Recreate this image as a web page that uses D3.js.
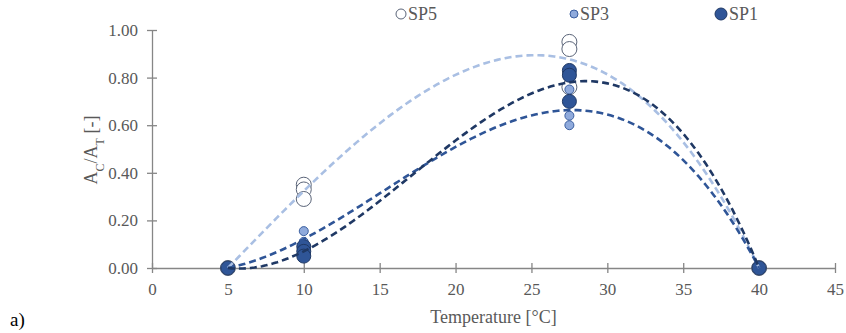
<!DOCTYPE html>
<html><head><meta charset="utf-8">
<script src="https://cdn.jsdelivr.net/npm/d3@7"></script>
<style>body{margin:0;background:#fff}svg{display:block}
svg text{font-family:"Liberation Serif","DejaVu Serif",Tinos,"Times New Roman",serif !important;}</style>
</head><body>
<svg id="c" width="846" height="333"></svg>
<script>
// Data
const temperatures = [5, 10, 27.5, 40];
const seriesNames = ["SP5", "SP3", "SP1"];
const sp5 = [[5,0],[10,0.35],[10,0.33],[10,0.29],[27.5,0.95],[27.5,0.92],[27.5,0.76],[40,0]];
const sp3 = [[5,0],[10,0.155],[10,0.11],[10,0.10],[27.5,0.75],[27.5,0.64],[27.5,0.60],[40,0]];
const sp1 = [[5,0],[10,0.09],[10,0.07],[10,0.05],[27.5,0.83],[27.5,0.81],[27.5,0.70],[40,0]];
const xTicks = [0,5,10,15,20,25,30,35,40,45];
const yTicks = [0,0.2,0.4,0.6,0.8,1.0];

const svg = d3.select("#c");
const L = 152, R = 835, T = 30, B = 268;
const x = d3.scaleLinear().domain([0,45]).range([L,R]);
const y = d3.scaleLinear().domain([0,1]).range([B,T]);
const axisCol = "#868686", txtCol = "#595959";

// axes
const gx = svg.append("g").attr("transform",`translate(0,${B})`)
  .call(d3.axisBottom(x).tickValues(xTicks).tickSizeInner(5).tickSizeOuter(0).tickPadding(10).tickFormat(d3.format("d")));
gx.selectAll(".tick line").attr("y1",-5);
const gy = svg.append("g").attr("transform",`translate(${L},0)`)
  .call(d3.axisLeft(y).tickValues(yTicks).tickSizeInner(5).tickSizeOuter(0).tickPadding(9).tickFormat(d3.format(".2f")));
gy.selectAll(".tick line").attr("x1",5);
[gx,gy].forEach(g=>{
  g.select(".domain").attr("stroke",axisCol).attr("stroke-width",1.3);
  g.selectAll(".tick line").attr("stroke",axisCol).attr("stroke-width",1.3);
  g.selectAll(".tick text").attr("fill",txtCol).style("font-size","17px");
});

// cubic least squares fit
function polyfit(pts, deg){
  const n = deg+1;
  const A = Array.from({length:n},()=>new Array(n+1).fill(0));
  pts.forEach(([px,py])=>{
    for(let i=0;i<n;i++){
      for(let j=0;j<n;j++) A[i][j]+=Math.pow(px,i+j);
      A[i][n]+=py*Math.pow(px,i);
    }
  });
  for(let i=0;i<n;i++){
    let m=i; for(let k=i+1;k<n;k++) if(Math.abs(A[k][i])>Math.abs(A[m][i])) m=k;
    [A[i],A[m]]=[A[m],A[i]];
    for(let k=0;k<n;k++){ if(k===i) continue; const f=A[k][i]/A[i][i]; for(let j=i;j<=n;j++) A[k][j]-=f*A[i][j]; }
  }
  return A.map((r,i)=>r[n]/r[i]);
}
const series = [
  {name:"SP5", data:sp5, fill:"#ffffff", stroke:"#5a6478", r:7.5, line:"#a9bfe3", lr:5},
  {name:"SP3", data:sp3, fill:"#8faadc", stroke:"#3b5fa0", r:4.5, line:"#2f5597", lr:4},
  {name:"SP1", data:sp1, fill:"#2f5597", stroke:"#1f3864", r:7, line:"#1f3864", lr:6}
];

// markers
series.forEach(s=>{
  svg.append("g").selectAll("circle").data(s.data).join("circle")
    .attr("cx",d=>x(d[0])).attr("cy",d=>y(d[1])).attr("r",s.r)
    .attr("fill",s.fill).attr("stroke",s.stroke).attr("stroke-width",1);
});
// trendlines
const line = d3.line().x(d=>x(d[0])).y(d=>y(d[1])).curve(d3.curveLinear);
series.forEach(s=>{
  const c = polyfit(s.data,3);
  const pts = d3.range(5,40.001,0.25).map(t=>[t, c[0]+c[1]*t+c[2]*t*t+c[3]*t*t*t]);
  svg.append("path").datum(pts).attr("d",line).attr("fill","none")
    .attr("stroke",s.line).attr("stroke-width",2.6).attr("stroke-dasharray","7,4");
});

// legend
const legX = [401, 574, 721];
series.forEach((s,i)=>{
  svg.append("circle").attr("cx",legX[i]).attr("cy",14).attr("r",s.lr)
    .attr("fill",s.fill).attr("stroke",s.stroke).attr("stroke-width",1);
  svg.append("text").attr("x",legX[i]+s.lr+2).attr("y",20).text(s.name)
    .attr("fill",txtCol).style("font-size","18px");
});

// axis titles
svg.append("text").attr("x",(L+R)/2).attr("y",323).attr("text-anchor","middle")
  .attr("fill",txtCol).style("font-size","18px").text("Temperature [°C]");
const yt = svg.append("text").attr("transform","translate(97,150) rotate(-90)").attr("text-anchor","middle")
  .attr("fill",txtCol).style("font-size","18px");
yt.append("tspan").text("A");
yt.append("tspan").attr("baseline-shift","sub").style("font-size","12px").text("C");
yt.append("tspan").text("/A");
yt.append("tspan").attr("baseline-shift","sub").style("font-size","12px").text("T");
yt.append("tspan").text(" [-]");

svg.append("text").attr("x",10).attr("y",326).attr("fill","#000")
  .style("font-size","19px").text("a)");
</script>
</body></html>
